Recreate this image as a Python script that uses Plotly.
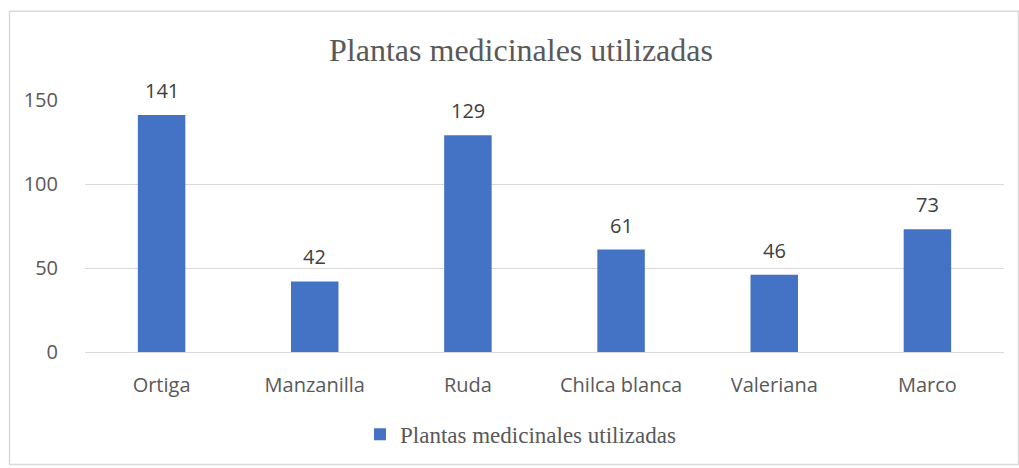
import plotly.graph_objects as go

categories = ["Ortiga", "Manzanilla", "Ruda", "Chilca blanca", "Valeriana", "Marco"]
values = [141, 42, 129, 61, 46, 73]
series_name = "Plantas medicinales utilizadas"
title_text = "Plantas medicinales utilizadas"

W, H = 1019, 468
L, R, T, B = 85, 1004, 100, 354
pw, ph = R - L, B - T

def px(x):
    return (x - L) / pw

def py(y):
    return (B - y) / ph

fig = go.Figure()
fig.add_trace(go.Bar(
    x=categories, y=values, name=series_name,
    marker=dict(color="#4472C4", line=dict(width=0)),
    showlegend=True,
))

for c, v in zip(categories, values):
    fig.add_annotation(x=c, y=v, text=str(v), showarrow=False, yanchor="bottom", yshift=9,
                       font=dict(family="Open Sans", size=20, color="#404040"))

fig.update_layout(
    width=W, height=H,
    margin=dict(l=L, r=W - R, t=T, b=H - B),
    paper_bgcolor="white", plot_bgcolor="white",
    bargap=0.69,
    title=dict(text=title_text, x=521 / W, xanchor="center", y=1 - 50 / H, yanchor="middle",
               font=dict(family="Liberation Serif", size=32, color="#595959")),
    font=dict(family="Open Sans", color="#595959"),
    xaxis=dict(showgrid=False, showline=True, linecolor="#D9D9D9", linewidth=1,
               ticks="outside", ticklen=15, tickcolor="rgba(0,0,0,0)",
               tickfont=dict(family="Open Sans", size=20, color="#595959")),
    yaxis=dict(range=[0, 150], dtick=50, showgrid=True, gridcolor="#D9D9D9", gridwidth=1,
               zeroline=False, showline=False,
               ticks="outside", ticklen=22, tickcolor="rgba(0,0,0,0)",
               tickfont=dict(family="Open Sans", size=20, color="#595959")),
    legend=dict(orientation="h", x=0.5 - 24 / pw, xanchor="center", y=py(437), yanchor="middle",
                font=dict(family="Liberation Serif", size=23, color="#595959"),
                itemwidth=30),
    shapes=[dict(type="rect", xref="paper", yref="paper",
                 x0=px(9.5), x1=px(1018.5), y0=py(467.5), y1=py(10.5),
                 line=dict(color="#D9D9D9", width=1.5), layer="below")],
)

fig.write_html("out.html", config={"displayModeBar": False},
               post_script="document.body.style.margin='0';document.body.style.padding='0';")
